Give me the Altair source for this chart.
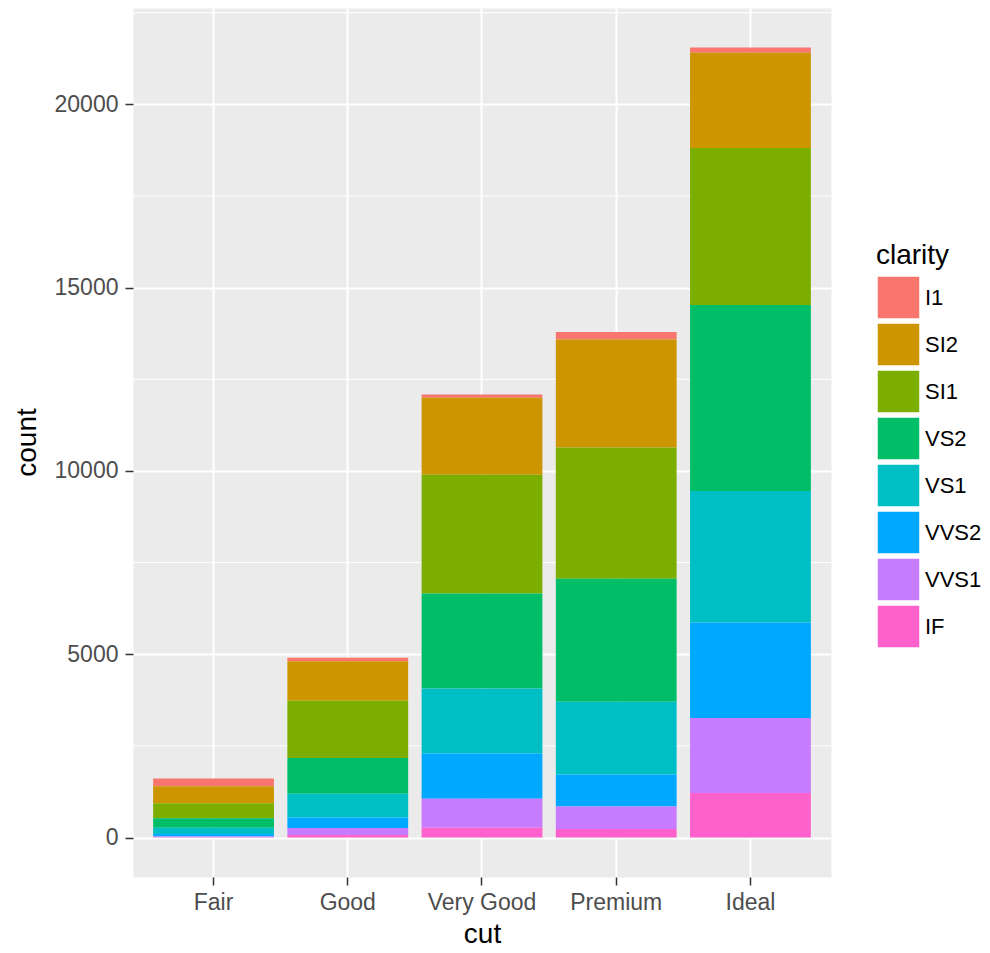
import altair as alt
import pandas as pd

cuts = ["Fair", "Good", "Very Good", "Premium", "Ideal"]
clarities = ["I1", "SI2", "SI1", "VS2", "VS1", "VVS2", "VVS1", "IF"]
colors = ["#F8766D", "#CD9600", "#7CAE00", "#00BE67", "#00BFC4", "#00A9FF", "#C77CFF", "#FF61CC"]

fair = [210, 466, 408, 261, 170, 69, 17, 9]
good = [96, 1081, 1560, 978, 648, 286, 186, 71]
very_good = [84, 2100, 3240, 2591, 1775, 1235, 789, 268]
premium = [205, 2949, 3575, 3357, 1989, 870, 616, 230]
ideal = [146, 2598, 4282, 5071, 3589, 2606, 2047, 1212]

major_ticks = [0, 5000, 10000, 15000, 20000]
minor_ticks = [2500, 7500, 12500, 17500, 22500]
y_domain = [-1077.55, 22628.55]

rows = []
for cut, vals in zip(cuts, [fair, good, very_good, premium, ideal]):
    for i, (cl, v) in enumerate(zip(clarities, vals)):
        rows.append({"cut": cut, "clarity": cl, "n": v, "ord": len(clarities) - 1 - i})
df = pd.DataFrame(rows)
minor_df = pd.DataFrame({"minor": minor_ticks})

FONT = "Liberation Sans"

y_scale = alt.Scale(domain=y_domain, nice=False, zero=False)
y_axis = alt.Axis(
    title="count", values=major_ticks, format="d", grid=True, gridColor="white", gridWidth=2,
    domain=False, tickSize=8, tickColor="#333333", tickWidth=1.5,
    labelPadding=7, labelFontSize=23, labelColor="#4D4D4D", labelFont=FONT,
    titleFontSize=28, titleColor="black", titleFontWeight="normal", titleFont=FONT,
    titleX=-106, titleY=434, titleBaseline="middle", titleAngle=-90,
)

rules = alt.Chart(minor_df).mark_rule(color="white", strokeWidth=1).encode(
    y=alt.Y("minor:Q", scale=y_scale, axis=y_axis)
)

bars = alt.Chart(df).mark_bar().encode(
    x=alt.X(
        "cut:N", sort=cuts,
        scale=alt.Scale(paddingInner=0.1, paddingOuter=0.15),
        axis=alt.Axis(
            title="cut", labelAngle=0, bandPosition=0.5, grid=True, gridColor="white",
            gridWidth=2, domain=False, tickSize=8, tickColor="#333333", tickWidth=1.5,
            labelPadding=6, labelFontSize=23, labelColor="#4D4D4D", labelFont=FONT,
            titleFontSize=28, titleColor="black", titleFontWeight="normal", titleFont=FONT,
            titleY=65, titleBaseline="alphabetic",
        ),
    ),
    y=alt.Y("n:Q", stack="zero", scale=y_scale, axis=y_axis),
    color=alt.Color(
        "clarity:N",
        scale=alt.Scale(domain=clarities, range=colors),
        legend=alt.Legend(
            title="clarity", orient="none", legendX=743, legendY=234, padding=0,
            titleFontSize=28, titleColor="black", titleFontWeight="normal", titleFont=FONT,
            titlePadding=5, labelFontSize=22, labelColor="black", labelFont=FONT,
            symbolType="square", symbolSize=1849, symbolStrokeColor="white",
            symbolStrokeWidth=1.5, symbolOpacity=1, rowPadding=-3, labelOffset=4,
        ),
    ),
    order=alt.Order("ord:Q", sort="ascending"),
)

chart = alt.layer(rules, bars).properties(
    width=698, height=869,
    autosize=alt.AutoSizeParams(type="none"),
    padding={"left": 125, "top": 0, "right": 150, "bottom": 72},
).configure(
    font=FONT,
    view=alt.ViewConfig(fill="#EBEBEB", stroke="transparent"),
)

chart.save("out.html", embed_options={"renderer": "svg", "actions": False})
